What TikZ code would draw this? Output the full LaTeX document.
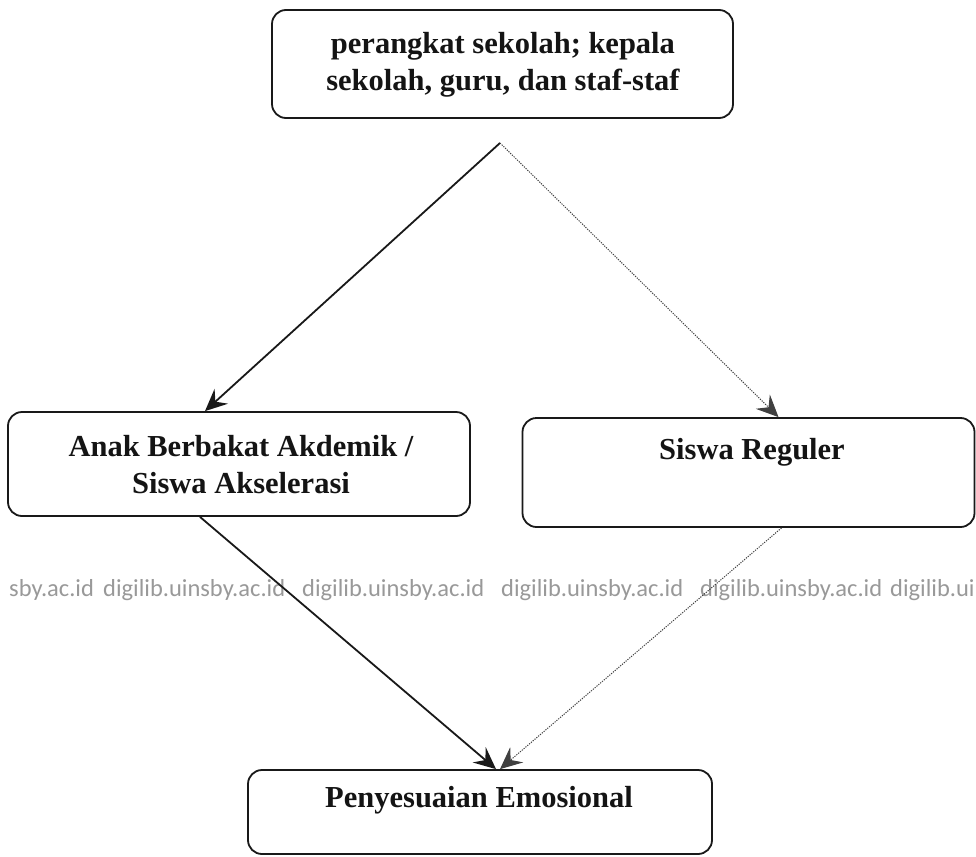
\documentclass[tikz,border=0pt]{standalone}
\usepackage{fontspec}
\setmainfont{Liberation Serif}
\newfontfamily\wmfont{Carlito}
\usetikzlibrary{arrows.meta,calc}
\begin{document}
\begin{tikzpicture}[x=1pt,y=-1pt,
  box/.style={draw=black!90, line width=1.8pt, rounded corners=14pt, inner sep=0pt},
  lbl/.style={font=\fontsize{30.5}{37}\selectfont\bfseries, align=center, text=black!92, inner sep=0pt},
  solidarrow/.style={draw=black!90, line width=1.8pt, -{Stealth[length=22pt,width=20pt,inset=8pt]}},
  dotarrow/.style={draw=black!75, line width=1pt, dash pattern=on 1.2pt off 1.2pt, -{Stealth[length=22pt,width=20pt,inset=8pt,line width=1pt]}},
  wm/.style={font=\wmfont\fontsize{24.5}{24.5}\selectfont, text=black!40, anchor=west, inner sep=0pt}]
\useasboundingbox (0,0) rectangle (976,856);
\fill[white] (0,0) rectangle (976,856);
% watermark
\node[wm] (wm0) at (9,590) {sby.ac.id};
\node[wm] (wm1) at (103,590) {digilib.uinsby.ac.id};
\node[wm] (wm2) at (302,590) {digilib.uinsby.ac.id};
\node[wm] (wm3) at (501,590) {digilib.uinsby.ac.id};
\node[wm] (wm4) at (700,590) {digilib.uinsby.ac.id};
\node[wm] (wm5) at (890,590) {digilib.ui};
% boxes
\node[box, minimum width=461pt, minimum height=108pt] (top) at (502.5,64) {};
\node[lbl] (toptxt) at (503,65) {perangkat sekolah; kepala\\sekolah, guru, dan staf-staf};
\node[box, minimum width=462pt, minimum height=104pt] (left) at (239,464) {};
\node[lbl] (lefttxt) at (241,465) {Anak Berbakat Akdemik /\\Siswa Akselerasi};
\node[box, minimum width=452pt, minimum height=109pt] (right) at (748.5,472.5) {};
\node[lbl] (righttxt) at (752,452) {Siswa Reguler};
\node[box, minimum width=464pt, minimum height=84pt] (bottom) at (480,812) {};
\node[lbl] (bottomtxt) at (479,800) {Penyesuaian Emosional};
% connectors
\coordinate (split) at (500,143);
\draw[solidarrow] (split) -- ([xshift=-34pt]left.north);
\draw[dotarrow] (split) -- ([xshift=30pt]right.north);
\draw[solidarrow] ([xshift=-39pt]left.south) -- ([xshift=16pt]bottom.north);
\draw[dotarrow] ([xshift=33pt]right.south) -- ([xshift=20pt]bottom.north);
\end{tikzpicture}
\end{document}
